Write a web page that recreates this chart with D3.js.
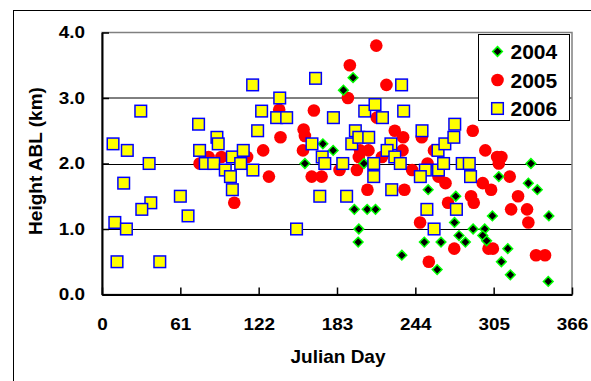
<!DOCTYPE html>
<html>
<head>
<meta charset="utf-8">
<script src="https://cdn.jsdelivr.net/npm/d3@7"></script>
<style>
  body { margin: 0; background: #fff; }
  #container { width: 591px; height: 381px; }
  text { font-family: "Liberation Sans", Arial, sans-serif; font-weight: bold; fill: #000; }
</style>
</head>
<body>
<div id="container"></div>
<script>
// Julian day / ABL height (km) pairs
const days2004 = [158, 172, 180, 188, 195.5, 196.5, 200, 199.5, 204, 206.5, 213, 233.5, 251, 254, 261, 264, 275.5, 274.5, 278, 283, 289, 298, 296.5, 299.5, 304, 309, 311, 316, 318, 334, 332, 339, 348, 347.5];
const height2004 = [2.0, 2.3, 2.2, 3.12, 3.31, 1.3, 1.0, 0.8, 2.0, 1.3, 1.3, 0.6, 0.8, 1.6, 0.38, 0.8, 1.5, 1.1, 0.9, 0.8, 1.0, 1.0, 0.9, 0.82, 1.2, 1.8, 0.5, 0.7, 0.3, 2.0, 1.7, 1.6, 1.2, 0.2];

const days2005 = [76, 83, 93, 103, 113, 125.5, 130, 138, 139, 156.5, 157, 158, 163.3, 165, 171, 185, 191.5, 193, 198.5, 200, 201, 207.5, 206.7, 213.6, 214, 218, 221.5, 228, 234.5, 234, 235.5, 241.5, 247.7, 249, 253.5, 254.5, 258.5, 262, 267.5, 269.5, 274.3, 288.7, 298.5, 296.5, 303, 287.4, 289.5, 307.7, 311, 309, 317.5, 324, 318.6, 331, 332, 301, 304.4, 338, 345];
const height2005 = [2.0, 2.1, 2.1, 1.4, 2.1, 2.2, 1.8, 2.82, 2.4, 2.2, 2.52, 2.42, 1.8, 2.81, 1.8, 1.9, 3.0, 3.5, 1.9, 2.1, 2.2, 2.2, 1.6, 3.8, 2.7, 2.1, 3.2, 2.5, 2.4, 2.2, 1.6, 1.9, 1.1, 2.4, 2.0, 0.5, 2.2, 1.8, 1.7, 1.4, 0.7, 2.5, 2.2, 1.7, 1.6, 1.5, 1.4, 2.1, 2.1, 2.0, 1.8, 1.5, 1.3, 1.3, 1.1, 0.7, 0.7, 0.6, 0.6];

const days2006 = [8.6, 19.7, 30.2, 36.7, 16.9, 61, 38, 31, 67, 10, 19, 11.7, 45, 75.2, 76, 89.5, 90.5, 80.4, 87, 96, 100, 101.5, 101.5, 110, 108, 117.5, 117.3, 124.3, 121.2, 138.4, 136, 143.8, 151.5, 163.5, 166.3, 169.6, 171.5, 173.5, 180.2, 187.5, 190.5, 194.5, 197.3, 200, 207.7, 204.6, 212.6, 218.4, 211.6, 211.6, 225, 222, 228, 232.3, 225.6, 233.3, 234.9, 249.2, 251.8, 247.9, 253, 258.6, 262, 266, 261.7, 267, 274, 274.7, 276, 280.5, 286, 287];
const height2006 = [2.3, 2.2, 2.8, 2.0, 1.7, 1.5, 1.4, 1.3, 1.2, 1.1, 1.0, 0.5, 0.5, 2.6, 2.2, 2.4, 2.3, 2.0, 2.0, 1.9, 1.8, 1.6, 2.1, 2.2, 2.0, 1.9, 3.2, 2.8, 2.5, 3.0, 2.7, 2.7, 1.0, 2.3, 3.3, 1.5, 2.1, 2.0, 2.7, 2.0, 1.5, 2.3, 2.5, 2.4, 2.4, 2.8, 2.9, 2.7, 2.0, 1.8, 2.3, 2.2, 2.1, 2.0, 1.6, 3.2, 2.8, 2.5, 1.9, 1.8, 1.3, 1.0, 1.9, 2.0, 2.2, 2.3, 2.4, 2.6, 1.3, 2.0, 2.0, 1.8];

const xTicks = [0, 61, 122, 183, 244, 305, 366];
const yTicks = [0, 1, 2, 3, 4];
const seriesNames = ["2004", "2005", "2006"];

const svg = d3.select("#container")
  .append("svg")
  .attr("width", 591)
  .attr("height", 381);

svg.append("rect")
  .attr("width", 591)
  .attr("height", 381)
  .attr("fill", "#fff");

// outer chart frame (runs off the right and bottom edges)
svg.append("rect")
  .attr("x", 13.5)
  .attr("y", 10.5)
  .attr("width", 640)
  .attr("height", 420)
  .attr("fill", "none")
  .attr("stroke", "#000")
  .attr("stroke-width", 1);

const x = d3.scaleLinear().domain([0, 366]).range([102, 572]);
const y = d3.scaleLinear().domain([0, 4]).range([294.5, 32.5]);

// gridlines
svg.append("g")
  .selectAll("line")
  .data(yTicks.filter(d => d > 0 && d < 4))
  .enter()
  .append("line")
  .attr("x1", x(0))
  .attr("x2", x(366))
  .attr("y1", d => d === 3 ? Math.round(y(d)) : Math.round(y(d)) + 0.5)
  .attr("y2", d => d === 3 ? Math.round(y(d)) : Math.round(y(d)) + 0.5)
  .attr("stroke", "#000")
  .attr("stroke-width", 1);

// plot border
svg.append("rect")
  .attr("x", x(0))
  .attr("y", y(4))
  .attr("width", x(366) - x(0))
  .attr("height", y(0) - y(4))
  .attr("fill", "none")
  .attr("stroke", "#808080")
  .attr("stroke-width", 1.5);

const xAxis = svg.append("g")
  .attr("transform", `translate(0,${y(0)})`)
  .call(d3.axisBottom(x).tickValues(xTicks).tickSizeInner(-7).tickSizeOuter(0).tickPadding(24).tickFormat(d3.format("d")));

const yAxis = svg.append("g")
  .attr("transform", `translate(${x(0)},0)`)
  .call(d3.axisLeft(y).tickValues(yTicks).tickSizeInner(-7).tickSizeOuter(0).tickPadding(17).tickFormat(d3.format(".1f")));

[xAxis, yAxis].forEach(a => {
  a.select(".domain").attr("stroke", "#000").attr("stroke-width", 2);
  a.selectAll(".tick line").attr("stroke", "#000").attr("stroke-width", 1.5);
  a.selectAll("text")
    .attr("font-size", "16px")
    .attr("font-family", "Liberation Sans, Arial, sans-serif")
    .attr("font-weight", "bold")
    .attr("fill", "#000")
    .each(function() {
      // the source chart's labels are a bit wider than plain Arial
      const len = this.getComputedTextLength();
      d3.select(this).attr("textLength", len * 1.18).attr("lengthAdjust", "spacingAndGlyphs");
    });
});

svg.append("text")
  .attr("x", 338)
  .attr("y", 363)
  .attr("text-anchor", "middle")
  .attr("font-size", "19px")
  .text("Julian Day");

svg.append("text")
  .attr("transform", "translate(42,161) rotate(-90)")
  .attr("text-anchor", "middle")
  .attr("font-size", "19px")
  .text("Height ABL (km)");

const diamond = d3.symbol().type(d3.symbolDiamond2).size(60);

function drawSeries(days, vals, kind) {
  const pts = days.map((d, i) => ({ day: d, h: vals[i] }));
  const g = svg.append("g");
  if (kind === "2005") {
    g.selectAll("circle").data(pts).enter().append("circle")
      .attr("cx", d => x(d.day))
      .attr("cy", d => y(d.h))
      .attr("r", 6.3)
      .attr("fill", "#ff0000");
  } else if (kind === "2004") {
    g.selectAll("path").data(pts).enter().append("path")
      .attr("d", diamond)
      .attr("transform", d => `translate(${x(d.day)},${y(d.h)})`)
      .attr("fill", "#000")
      .attr("stroke", "#00ff00")
      .attr("stroke-width", 1.5);
  } else {
    g.selectAll("rect").data(pts).enter().append("rect")
      .attr("x", d => x(d.day) - 5.8)
      .attr("y", d => y(d.h) - 5.8)
      .attr("width", 11.6)
      .attr("height", 11.6)
      .attr("fill", "#ffff00")
      .attr("stroke", "#0000ff")
      .attr("stroke-width", 1.5);
  }
}

drawSeries(days2005, height2005, "2005");
drawSeries(days2004, height2004, "2004");
drawSeries(days2006, height2006, "2006");

// legend
const legend = svg.append("g").attr("transform", "translate(478.5,34.5)");
legend.append("rect")
  .attr("width", 91)
  .attr("height", 86)
  .attr("fill", "#fff")
  .attr("stroke", "#000")
  .attr("stroke-width", 1);

seriesNames.forEach((name, i) => {
  const cy = 17 + i * 28.5;
  if (name === "2004") {
    legend.append("path").attr("d", diamond)
      .attr("transform", `translate(19,${cy})`)
      .attr("fill", "#000").attr("stroke", "#00ff00").attr("stroke-width", 1.5);
  } else if (name === "2005") {
    legend.append("circle").attr("cx", 19).attr("cy", cy).attr("r", 6.3).attr("fill", "#ff0000");
  } else {
    legend.append("rect").attr("x", 13.2).attr("y", cy - 5.8).attr("width", 11.6).attr("height", 11.6)
      .attr("fill", "#ffff00").attr("stroke", "#0000ff").attr("stroke-width", 1.5);
  }
  legend.append("text")
    .attr("x", 32)
    .attr("y", cy + 7.5)
    .attr("font-size", "21px")
    .text(name);
});
</script>
</body>
</html>
